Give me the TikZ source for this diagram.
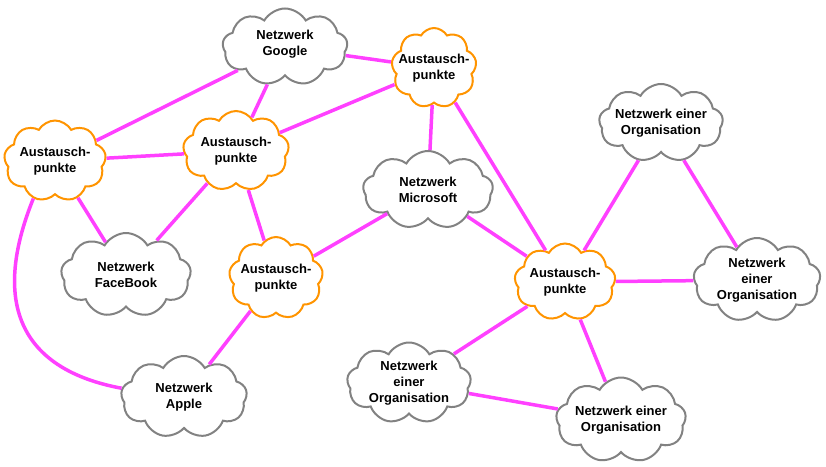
\documentclass[tikz,border=0pt]{standalone}
\usepackage{fontspec}
\setmainfont{Liberation Sans}
\usetikzlibrary{shapes.symbols}
\definecolor{cgrey}{RGB}{130,130,130}
\definecolor{corange}{RGB}{255,148,0}
\definecolor{cmag}{RGB}{255,64,255}
\begin{document}
\begin{tikzpicture}[x=1pt,y=-1pt,
  cl/.style={cloud, cloud puffs=9, cloud puff arc=120, draw, line width=2pt, inner sep=0pt, fill=white},
  net/.style={cl, draw=cgrey},
  ap/.style={cl, draw=corange},
  sz/.style 2 args={minimum width=#1, minimum height=#2},
  lbl/.style={font=\bfseries\fontsize{13}{16}\selectfont, align=center, inner sep=0pt},
  link/.style={draw=cmag, line width=3.5pt}]
\useasboundingbox (0,0) rectangle (826,466);
% clouds
\node[net, sz={125}{77}, label={[lbl,yshift=3pt]center:Netzwerk\\Google}] (google) at (285,47) {};
\node[ap, sz={85}{80}, label={[lbl]center:Austausch-\\punkte}] (a1) at (434,68) {};
\node[ap, sz={102}{81}, label={[lbl]center:Austausch-\\punkte}] (a2) at (55,161) {};
\node[ap, sz={106}{80}, label={[lbl]center:Austausch-\\punkte}] (a3) at (236,151) {};
\node[net, sz={130}{78}, label={[lbl]center:Netzwerk\\Microsoft}] (ms) at (428,190) {};
\node[net, sz={130}{84}, label={[lbl]center:Netzwerk\\FaceBook}] (fb) at (126,275) {};
\node[ap, sz={94}{82}, label={[lbl]center:Austausch-\\punkte}] (a4) at (276,278) {};
\node[ap, sz={101}{77}, label={[lbl]center:Austausch-\\punkte}] (a5) at (565,282) {};
\node[net, sz={124}{78}, label={[lbl]center:Netzwerk einer\\Organisation}] (otr) at (661,123) {};
\node[net, sz={127}{84}, label={[lbl]center:Netzwerk\\einer\\Organisation}] (or) at (757,280) {};
\node[net, sz={126}{82}, label={[lbl]center:Netzwerk\\Apple}] (apple) at (184,397) {};
\node[net, sz={124}{81}, label={[lbl]center:Netzwerk\\einer\\Organisation}] (ob) at (409,383) {};
\node[net, sz={130}{85}, label={[lbl]center:Netzwerk einer\\Organisation}] (obr) at (621,420) {};
% links
\draw[link] (google) -- (a1);
\draw[link] (google) -- (a2);
\draw[link] (google) -- (a3);
\draw[link] (a1) -- (a3);
\draw[link] (a1) -- (ms);
\draw[link] (a1) -- (a5);
\draw[link] (a2) -- (a3);
\draw[link] (a2) -- (fb);
\draw[link] (a2.240) .. controls (-23.5,339.5) and (61,377) .. (apple.172);
\draw[link] (a3) -- (fb);
\draw[link] (a3) -- (a4);
\draw[link] (a4) -- (ms);
\draw[link] (a4) -- (apple);
\draw[link] (ms) -- (a5);
\draw[link] (a5) -- (otr);
\draw[link] (otr) -- (or);
\draw[link] (a5) -- (or);
\draw[link] (a5) -- (ob);
\draw[link] (a5) -- (obr);
\draw[link] (ob) -- (obr);
\end{tikzpicture}
\end{document}
